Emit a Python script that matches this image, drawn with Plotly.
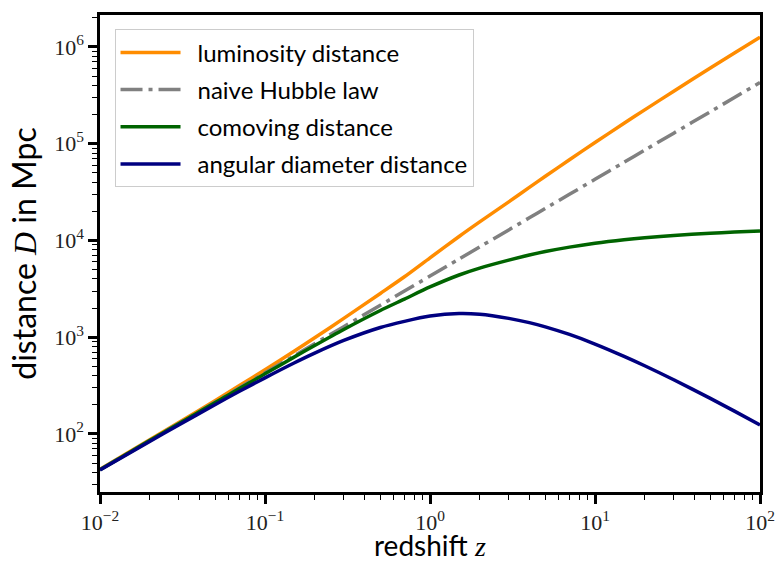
import plotly.graph_objects as go

# redshift samples
z = [0.01, 0.02, 0.03, 0.05, 0.07, 0.1, 0.15, 0.2, 0.3, 0.5, 0.7, 1, 1.5, 2, 3, 4, 5, 7,
     10, 15, 20, 30, 50, 70, 100]

# distances in Mpc
d_lum = [43.1, 87.0, 131.4, 222, 316, 460, 715, 985, 1564, 2832, 4211, 6608, 10983, 15537,
         25016, 35340, 46050, 68256, 102806, 162416, 223650, 348812, 605472, 866555, 1263005]
d_hubble = [42.8, 85.7, 128.5, 214, 300, 428, 642, 857, 1285, 2142, 2998, 4283, 6425, 8566,
            12849, 17132, 21415, 29981, 42830, 64245, 85660, 128490, 214150, 299810, 428300]
d_com = [42.7, 85.3, 127.6, 211.5, 295, 418, 622, 821, 1203, 1888, 2477, 3304, 4393, 5179,
         6254, 7068, 7675, 8532, 9346, 10151, 10650, 11252, 11872, 12205, 12505]
d_ang = [42.3, 83.6, 123.9, 201.7, 275.7, 380, 541, 684, 925, 1259, 1457, 1652, 1757, 1726,
         1564, 1414, 1279, 1067, 850, 634, 507, 363, 233, 172, 124]

names = ["luminosity distance", "naive Hubble law", "comoving distance", "angular diameter distance"]
colors = ["#FF8C00", "#808080", "#006400", "#000080"]
dashes = ["solid", "22px,6px,4px,6px", "solid", "solid"]
series = [d_lum, d_hubble, d_com, d_ang]

x_tickvals = [0.01, 0.1, 1, 10, 100]
x_ticktext = ["10<sup>−2</sup>", "10<sup>−1</sup>", "10<sup>0</sup>", "10<sup>1</sup>", "10<sup>2</sup>"]
y_tickvals = [1e1, 1e2, 1e3, 1e4, 1e5, 1e6, 1e7]
y_ticktext = ["", "10<sup>2</sup>", "10<sup>3</sup>", "10<sup>4</sup>", "10<sup>5</sup>", "10<sup>6</sup>", ""]

x_minor = [m * d for d in x_tickvals[:-1] for m in range(2, 10)]
y_minor = [m * d for d in y_tickvals[:-1] for m in range(2, 10)]

fig = go.Figure()
for i, (nm, col, ds, ys) in enumerate(zip(names, colors, dashes, series)):
    fig.add_trace(go.Scatter(x=z, y=ys, mode="lines", name="\u2002" + nm, legendgroup=f"g{i}",
                             line=dict(color=col, width=3.5, dash=ds, shape="spline", smoothing=0.8)))

def axis_common(minor_vals):
    return dict(
        showgrid=False, zeroline=False, showline=True, linecolor="black", linewidth=2.5,
        mirror=True, ticks="outside", ticklen=9, tickwidth=2.5, tickcolor="black",
        tickfont=dict(family="Liberation Serif", size=22, color="#222"),
        minor=dict(ticks="outside", ticklen=5, tickwidth=1.2, tickcolor="black",
                   showgrid=False, tickmode="array", tickvals=minor_vals),
        automargin=False,
    )

fig.update_xaxes(type="log", range=[-2, 2], tickvals=x_tickvals, ticktext=x_ticktext,
                 **axis_common(x_minor))
fig.update_yaxes(type="log", range=[1.40, 6.33], tickvals=y_tickvals, ticktext=y_ticktext,
                 title=dict(text="distance <span style='font-family:Liberation Serif'><i>D</i></span> in Mpc",
                            font=dict(family="Lato", size=32, color="black"), standoff=8),
                 **axis_common(y_minor))

# x-axis title as an annotation, pinned near the bottom edge
fig.add_annotation(text="redshift <span style='font-family:Liberation Serif'><i>z</i></span>",
                   xref="paper", yref="paper", x=0.5, y=0, yanchor="top", xanchor="center",
                   yshift=-35, showarrow=False, borderpad=0,
                   font=dict(family="Lato", size=28, color="black"))

fig.update_layout(
    width=779, height=564,
    margin=dict(l=100, r=19, t=15, b=72),
    paper_bgcolor="white", plot_bgcolor="white",
    showlegend=True,
    legend=dict(x=0.022, y=0.97, xanchor="left", yanchor="top",
                bgcolor="rgba(255,255,255,0.8)", bordercolor="#cccccc", borderwidth=1,
                font=dict(family="Lato", size=24, color="black"),
                itemwidth=60, tracegroupgap=3),
)

fig.write_html("out.html")
